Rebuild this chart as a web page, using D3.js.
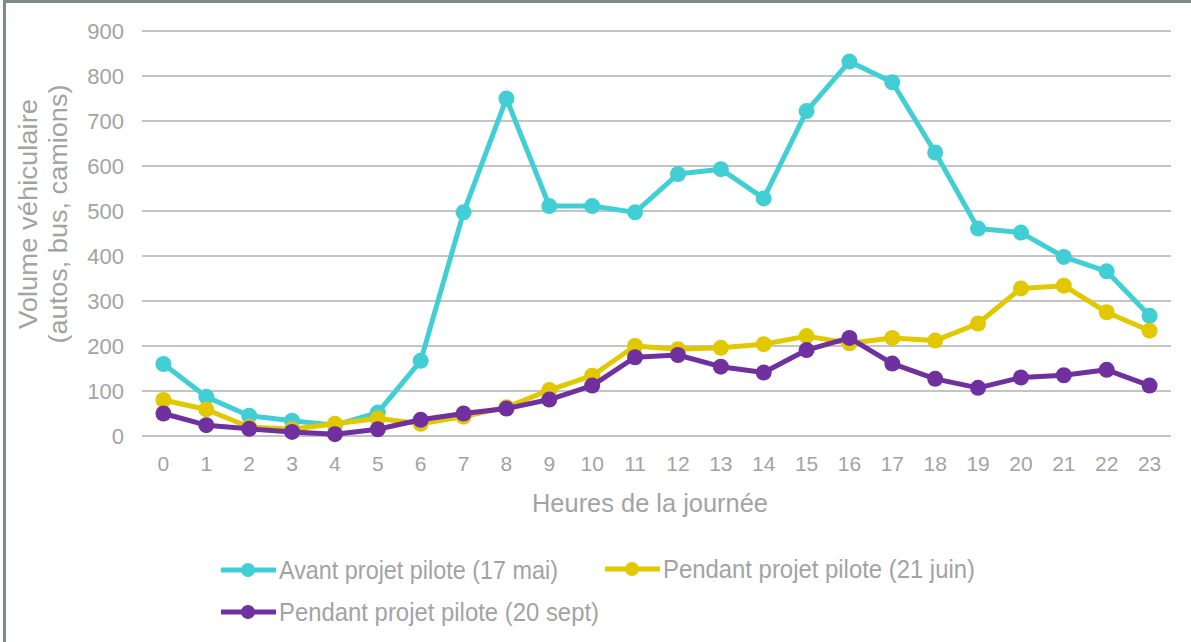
<!DOCTYPE html>
<html><head><meta charset="utf-8">
<script src="https://cdn.jsdelivr.net/npm/d3@7/dist/d3.min.js"></script>
<style>body{margin:0;background:#fff}svg{display:block}text{font-family:"Liberation Sans",Arial,sans-serif}</style>
</head><body><svg id="c" width="1191" height="642"></svg>
<script>
const hours = ["0","1","2","3","4","5","6","7","8","9","10","11","12","13","14","15","16","17","18","19","20","21","22","23"];
const avant = [160,87,45,34,24,52,167,497,750,511,511,497,582,593,528,722,832,786,630,461,452,398,366,267];
const juin = [80,59,20,15,27,39,27,43,64,102,134,200,193,196,204,222,206,218,212,250,328,334,275,234];
const sept = [50,24,16,9,4,15,36,50,61,81,112,175,180,154,141,191,218,161,127,107,130,135,147,112];
const yTicks = [0,100,200,300,400,500,600,700,800,900];
const seriesNames = ["Avant projet pilote (17 mai)","Pendant projet pilote (21 juin)","Pendant projet pilote (20 sept)"];
const colors = ["#41CFD5","#E2C800","#7030A0"];

const svg = d3.select("#c");
const grey = "#a3a3a3";
// frame
svg.append("rect").attr("x",3).attr("y",0).attr("width",3).attr("height",642).attr("fill","#7f8a8a");
svg.append("rect").attr("x",3).attr("y",0).attr("width",1188).attr("height",3).attr("fill","#7f8a8a");

const x = d3.scaleBand().domain(hours).range([142,1171]);
const y = d3.scaleLinear().domain([0,900]).range([436,31]);
const xc = h => x(h) + x.bandwidth()/2;

// gridlines
svg.append("g").selectAll("line").data(yTicks).join("line")
  .attr("x1",142).attr("x2",1171).attr("y1",d=>y(d)).attr("y2",d=>y(d))
  .attr("stroke","#c4c4c4").attr("stroke-width",2);

// y axis labels
const ya = svg.append("g").attr("transform","translate(124,0)")
  .call(d3.axisLeft(y).tickValues(yTicks).tickSize(0).tickPadding(0));
ya.select(".domain").remove();
ya.selectAll("text").attr("fill",grey).style("font-size","22px").attr("dy","0.36em");

// x axis labels
const xa = svg.append("g").attr("transform","translate(0,456)")
  .call(d3.axisBottom(x).tickSize(0).tickPadding(0));
xa.select(".domain").remove();
xa.selectAll("text").attr("fill",grey).style("font-size","21px").attr("dy","0.71em");

// titles
svg.append("text").attr("x",650).attr("y",503).attr("dy","0.36em").attr("text-anchor","middle")
  .attr("fill",grey).style("font-size","25px").attr("textLength",236).attr("lengthAdjust","spacingAndGlyphs")
  .text("Heures de la journée");
const yt = svg.append("g").attr("transform","translate(0,214) rotate(-90)");
yt.append("text").attr("x",0).attr("y",28).attr("dy","0.36em").attr("text-anchor","middle")
  .attr("fill",grey).style("font-size","25px").attr("textLength",230).attr("lengthAdjust","spacingAndGlyphs")
  .text("Volume véhiculaire");
yt.append("text").attr("x",0).attr("y",58).attr("dy","0.36em").attr("text-anchor","middle")
  .attr("fill",grey).style("font-size","25px").attr("textLength",259).attr("lengthAdjust","spacingAndGlyphs")
  .text("(autos, bus, camions)");

// series
const data = [avant, juin, sept];
const line = d3.line().x((d,i)=>xc(hours[i])).y(d=>y(d));
data.forEach((vals,k)=>{
  const g = svg.append("g");
  g.append("path").datum(vals).attr("d",line).attr("fill","none")
    .attr("stroke",colors[k]).attr("stroke-width",5).attr("stroke-linejoin","round");
  g.selectAll("circle").data(vals).join("circle")
    .attr("cx",(d,i)=>xc(hours[i])).attr("cy",d=>y(d)).attr("r",8).attr("fill",colors[k]);
});

// legend
const legendPos = [{x:221,y:570,len:279},{x:605,y:569,len:312},{x:221,y:612,len:320}];
legendPos.forEach((p,k)=>{
  const g = svg.append("g").attr("transform",`translate(${p.x},${p.y})`);
  g.append("line").attr("x1",0).attr("x2",55).attr("y1",0).attr("y2",0).attr("stroke",colors[k]).attr("stroke-width",5);
  g.append("circle").attr("cx",27).attr("cy",0).attr("r",7).attr("fill",colors[k]);
  g.append("text").attr("x",58).attr("y",0).attr("dy","0.36em").attr("fill",grey)
    .style("font-size","25px").attr("textLength",p.len).attr("lengthAdjust","spacingAndGlyphs").text(seriesNames[k]);
});
</script></body></html>
